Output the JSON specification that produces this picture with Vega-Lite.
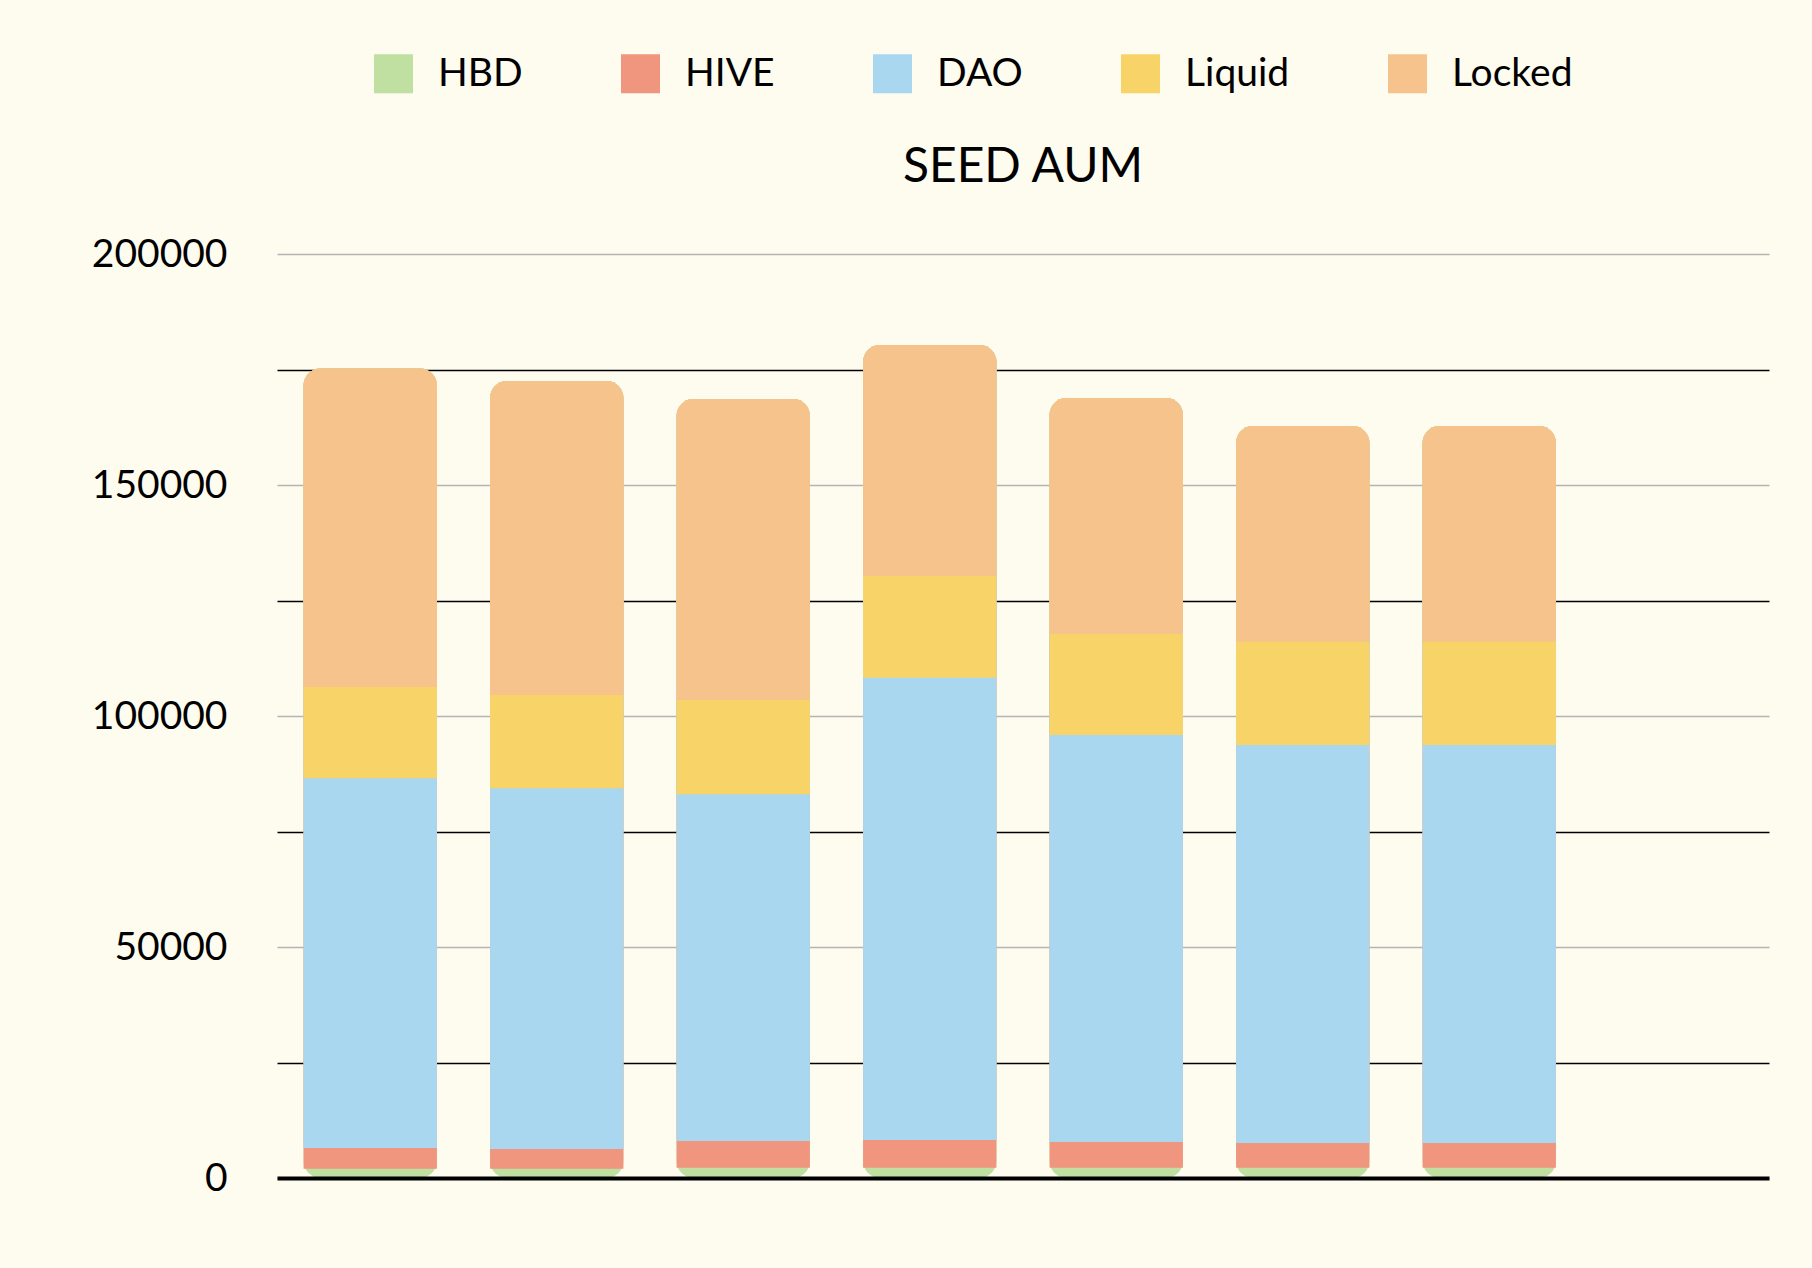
{
  "$schema": "https://vega.github.io/schema/vega-lite/v6.json",
  "width": 1492,
  "height": 924,
  "autosize": {"type": "none"},
  "padding": {"left": 277, "top": 254, "right": 43, "bottom": 90},
  "background": "#fefbef",
  "title": {"text": "SEED AUM", "font": "Lato", "fontSize": 48, "fontWeight": "normal", "color": "#000000", "baseline": "alphabetic", "offset": -176, "anchor": "middle"},
  "data": {"values": [
    {"w": "1", "s": "HBD", "k": 1, "v": 2000},
    {"w": "1", "s": "HIVE", "k": 2, "v": 4500},
    {"w": "1", "s": "DAO", "k": 3, "v": 80000},
    {"w": "1", "s": "Liquid", "k": 4, "v": 19760},
    {"w": "1", "s": "Locked", "k": 5, "v": 68980},
    {"w": "2", "s": "HBD", "k": 1, "v": 2000},
    {"w": "2", "s": "HIVE", "k": 2, "v": 4300},
    {"w": "2", "s": "DAO", "k": 3, "v": 78050},
    {"w": "2", "s": "Liquid", "k": 4, "v": 20200},
    {"w": "2", "s": "Locked", "k": 5, "v": 67950},
    {"w": "3", "s": "HBD", "k": 1, "v": 2200},
    {"w": "3", "s": "HIVE", "k": 2, "v": 5800},
    {"w": "3", "s": "DAO", "k": 3, "v": 75050},
    {"w": "3", "s": "Liquid", "k": 4, "v": 20410},
    {"w": "3", "s": "Locked", "k": 5, "v": 65140},
    {"w": "4", "s": "HBD", "k": 1, "v": 2200},
    {"w": "4", "s": "HIVE", "k": 2, "v": 6000},
    {"w": "4", "s": "DAO", "k": 3, "v": 100090},
    {"w": "4", "s": "Liquid", "k": 4, "v": 22010},
    {"w": "4", "s": "Locked", "k": 5, "v": 50000},
    {"w": "5", "s": "HBD", "k": 1, "v": 2200},
    {"w": "5", "s": "HIVE", "k": 2, "v": 5600},
    {"w": "5", "s": "DAO", "k": 3, "v": 88090},
    {"w": "5", "s": "Liquid", "k": 4, "v": 21860},
    {"w": "5", "s": "Locked", "k": 5, "v": 51080},
    {"w": "6", "s": "HBD", "k": 1, "v": 2200},
    {"w": "6", "s": "HIVE", "k": 2, "v": 5400},
    {"w": "6", "s": "DAO", "k": 3, "v": 86120},
    {"w": "6", "s": "Liquid", "k": 4, "v": 22360},
    {"w": "6", "s": "Locked", "k": 5, "v": 46690},
    {"w": "7", "s": "HBD", "k": 1, "v": 2200},
    {"w": "7", "s": "HIVE", "k": 2, "v": 5400},
    {"w": "7", "s": "DAO", "k": 3, "v": 86120},
    {"w": "7", "s": "Liquid", "k": 4, "v": 22360},
    {"w": "7", "s": "Locked", "k": 5, "v": 46690}
  ]},
  "transform": [
    {"stack": "v", "groupby": ["w"], "sort": [{"field": "k", "order": "ascending"}], "as": ["lo", "hi"]},
    {"joinaggregate": [{"op": "sum", "field": "v", "as": "total"}], "groupby": ["w"]}
  ],
  "encoding": {
    "x": {"field": "w", "type": "nominal",
      "scale": {"domain": ["1", "2", "3", "4", "5", "6", "7", "8"], "paddingInner": 0.285, "paddingOuter": 0.1425},
      "axis": {"title": null, "labels": false, "ticks": false, "grid": false, "domain": true, "domainColor": "#000000", "domainWidth": 4, "zindex": 1}},
    "y": {"field": "lo", "type": "quantitative",
      "scale": {"domain": [0, 200000], "nice": false, "zero": true},
      "axis": {"title": null, "values": [0, 25000, 50000, 75000, 100000, 125000, 150000, 175000, 200000],
        "labelExpr": "datum.value % 50000 === 0 ? datum.value + '' : ''",
        "format": "d",
        "domain": false, "ticks": false, "labelPadding": 50, "labelFont": "Lato", "labelFontSize": 39, "labelColor": "#000000",
        "grid": true, "gridWidth": 1.5,
        "gridColor": {"condition": {"test": "datum.value % 50000 === 0", "value": "#b4b4b4"}, "value": "#000000"}}},
    "y2": {"field": "total"},
    "color": {"field": "s", "type": "nominal",
      "scale": {"domain": ["HBD", "HIVE", "DAO", "Liquid", "Locked"], "range": ["#bfe0a0", "#f0957e", "#a9d7ef", "#f8d468", "#f6c38c"]},
      "legend": {"orient": "none", "legendX": 97, "legendY": -200, "direction": "horizontal", "title": null,
        "symbolType": "square", "symbolSize": 1521, "symbolStrokeWidth": 0, "symbolOpacity": 1,
        "labelFont": "Lato", "labelFontSize": 39, "labelColor": "#000000", "labelOffset": 25, "columnPadding": 98, "padding": 0}}
  },
  "layer": [
    {"transform": [{"filter": "datum.s === 'HBD'"}], "mark": {"type": "bar", "cornerRadius": 17}},
    {"transform": [{"filter": "datum.s === 'HIVE'"}], "mark": {"type": "bar", "cornerRadiusTopLeft": 17, "cornerRadiusTopRight": 17}},
    {"transform": [{"filter": "datum.s === 'DAO'"}], "mark": {"type": "bar", "cornerRadiusTopLeft": 17, "cornerRadiusTopRight": 17}},
    {"transform": [{"filter": "datum.s === 'Liquid'"}], "mark": {"type": "bar", "cornerRadiusTopLeft": 17, "cornerRadiusTopRight": 17}},
    {"transform": [{"filter": "datum.s === 'Locked'"}], "mark": {"type": "bar", "cornerRadiusTopLeft": 17, "cornerRadiusTopRight": 17}}
  ],
  "config": {"view": {"stroke": null}}
}
